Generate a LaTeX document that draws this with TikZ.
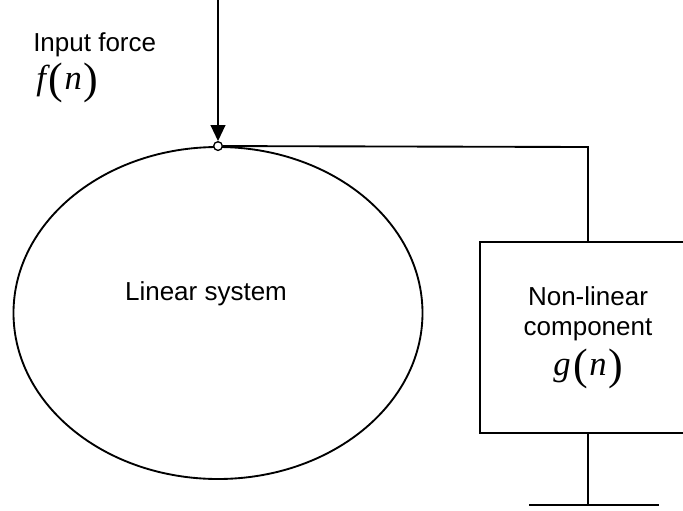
\documentclass[tikz,border=0pt]{standalone}
\usepackage{fontspec}
\setmainfont{Liberation Sans}
\newfontfamily\timesit{Liberation Serif}
\usetikzlibrary{shapes,arrows.meta,positioning}
% f(n) style symbol with tall brackets
\newcommand{\sigsym}[2]{{\timesit\fontsize{26}{26}\selectfont\itshape #1\kern2pt\raisebox{-3pt}{\upshape\fontsize{33}{33}\selectfont(}\kern1pt#2\kern1pt\raisebox{-3pt}{\upshape\fontsize{33}{33}\selectfont)}}}

\begin{document}
\begin{tikzpicture}[x=0.75pt,y=0.75pt,yscale=-1,xscale=1]
\tikzset{line/.style={line width=1.4pt},
  txt/.style={font=\fontsize{19.5}{22.5}\selectfont, align=center, inner sep=0pt}}
\useasboundingbox (0,0) rectangle (683,511);

% Linear system
\node [draw, line, ellipse, minimum width=306.75pt, minimum height=249pt, inner sep=0pt] (lin) at (218,313) {};
\node [txt] (lintext) at (206,294) {Linear system};
% input node on the ellipse
\node [draw, circle, fill=white, line width=1pt, minimum size=6.5pt, inner sep=0pt] (inp) at (lin.north) {};
\coordinate (top) at (218,0);
\draw [line, -{Triangle[length=12pt,width=11pt]}] (top) -- (inp.north);
\node [txt, anchor=base west] (forcetext) at (33,51) {Input force};
\node [txt, anchor=base west] (forcesym) at (36,89) {\sigsym{f}{n}};

% Non-linear component
\node [txt, draw, line, rectangle, minimum width=162pt, minimum height=143.25pt] (nl) at (588,337.5) {Non-linear\\component\\[5pt]\sigsym{g}{n}};
\coordinate (corner) at (588,147);
\draw [line] (inp.east) -- (corner) -- (nl.north);

% ground
\coordinate (gnd) at (588,505);
\draw [line] (nl.south) -- (gnd);
\draw [line] ([xshift=-44]gnd) -- ([xshift=53]gnd);

\end{tikzpicture}
\end{document}
